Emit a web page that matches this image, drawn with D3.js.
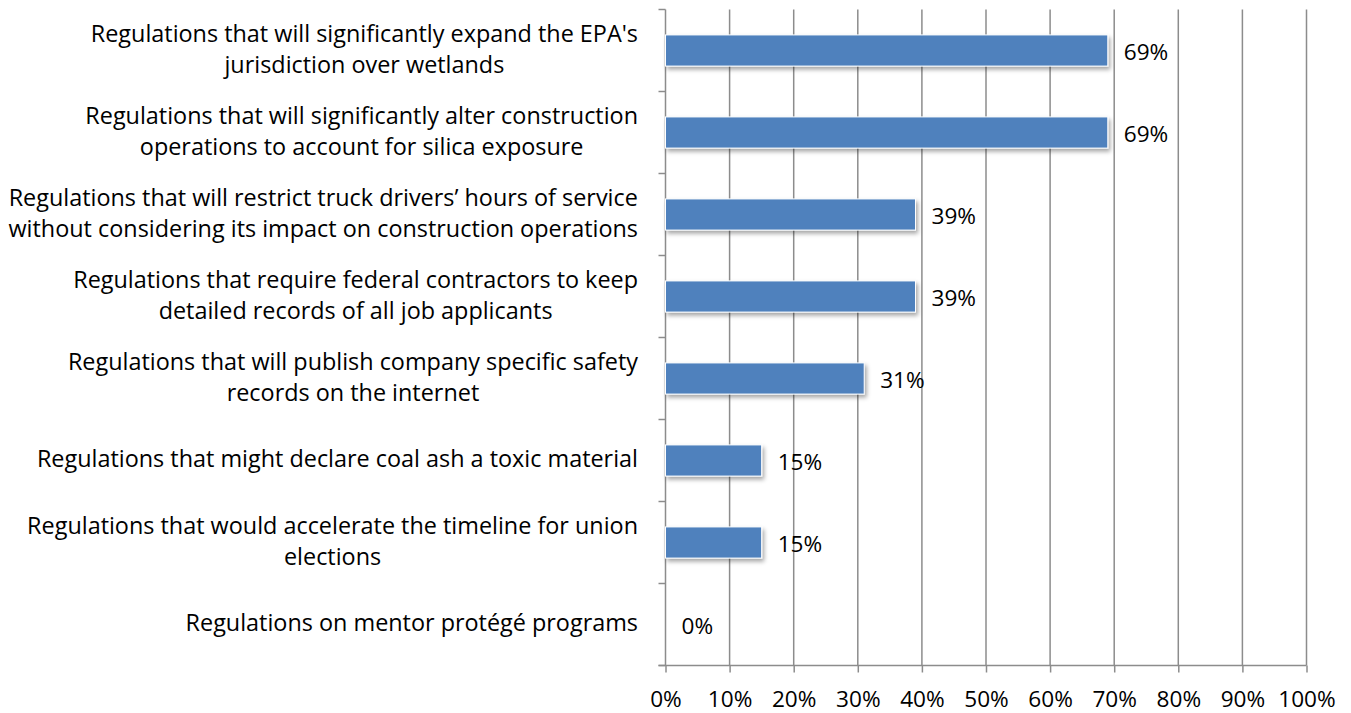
<!DOCTYPE html>
<html>
<head>
<meta charset="utf-8">
<script src="https://cdn.jsdelivr.net/npm/d3@7"></script>
<style>
  html, body { margin: 0; padding: 0; background: #fff; }
  svg { display: block; }
  text { font-family: "Open Sans", Lato, sans-serif; fill: #000; }
</style>
</head>
<body>
<svg id="chart" width="1351" height="713"></svg>
<script>
// Survey categories (each inner array is one wrapped label, line by line)
const categories = [
  ["Regulations that will significantly expand the EPA's", "jurisdiction over wetlands"],
  ["Regulations that will significantly alter construction", "operations to account for silica exposure"],
  ["Regulations that will restrict truck drivers\u2019 hours of service", "without considering its impact on construction operations"],
  ["Regulations that require federal contractors to keep", "detailed records of all job applicants"],
  ["Regulations that will publish company specific safety", "records on the internet"],
  ["Regulations that might declare coal ash a toxic material"],
  ["Regulations that would accelerate the timeline for union", "elections"],
  ["Regulations on mentor prot\u00e9g\u00e9 programs"]
];
const values = [69, 69, 39, 39, 31, 15, 15, 0];
const xTicks = [0, 10, 20, 30, 40, 50, 60, 70, 80, 90, 100];

const svg = d3.select("#chart");
const plotLeft = 665.5, plotRight = 1306.5, plotTop = 9.5, plotBottom = 665.5;
const fontSize = 22.6;
const catFontSize = 23.4;

const x = d3.scaleLinear().domain([0, 100]).range([plotLeft, plotRight]);
const y = d3.scaleBand()
  .domain(d3.range(categories.length))
  .range([plotTop, plotBottom])
  .paddingInner(0.62)
  .paddingOuter(0.31);

// Drop shadow for bars
const defs = svg.append("defs");
const f = defs.append("filter").attr("id", "shadow")
  .attr("x", "-5%").attr("y", "-30%").attr("width", "115%").attr("height", "190%");
f.append("feDropShadow").attr("dx", 2).attr("dy", 3).attr("stdDeviation", 2)
  .attr("flood-color", "#000").attr("flood-opacity", 0.35);

// Vertical gridlines
svg.append("g").selectAll("line")
  .data(xTicks.filter(d => d > 0))
  .join("line")
  .attr("x1", d => x(d)).attr("x2", d => x(d))
  .attr("y1", plotTop).attr("y2", plotBottom)
  .attr("stroke", "#8c8c8c").attr("stroke-width", 1.5);

// Bottom axis
const xAxis = svg.append("g")
  .attr("transform", `translate(0,${plotBottom})`)
  .call(d3.axisBottom(x).tickValues(xTicks).tickSize(7).tickPadding(18).tickFormat(d => d + "%"));
xAxis.select(".domain").attr("d", `M${plotLeft - 7},0H${plotRight}`).attr("stroke", "#8c8c8c").attr("stroke-width", 1.5);
xAxis.selectAll(".tick line").attr("stroke", "#8c8c8c").attr("stroke-width", 1.5);
xAxis.selectAll(".tick text").attr("font-size", fontSize).attr("font-family", "'Open Sans', sans-serif").attr("fill", "#000");

// Left axis with category separators
const bandEdges = d3.range(categories.length + 1).map(i => plotTop + i * y.step());
svg.append("line")
  .attr("x1", plotLeft).attr("x2", plotLeft).attr("y1", plotTop).attr("y2", plotBottom)
  .attr("stroke", "#8c8c8c").attr("stroke-width", 1.5);
svg.append("g").selectAll("line")
  .data(bandEdges)
  .join("line")
  .attr("x1", plotLeft - 7).attr("x2", plotLeft)
  .attr("y1", d => d).attr("y2", d => d)
  .attr("stroke", "#8c8c8c").attr("stroke-width", 1.5);

// Bars
svg.append("g").selectAll("rect")
  .data(values)
  .join("rect")
  .attr("x", x(0))
  .attr("y", (d, i) => y(i))
  .attr("width", d => x(d) - x(0))
  .attr("height", y.bandwidth())
  .attr("fill", "#4f81bd")
  .attr("stroke", "#fff").attr("stroke-width", 1)
  .attr("filter", d => d > 0 ? "url(#shadow)" : null);

// Value labels
svg.append("g").selectAll("text")
  .data(values)
  .join("text")
  .attr("x", d => x(d) + 16)
  .attr("y", (d, i) => y(i) + y.bandwidth() / 2 + 1.5)
  .attr("dy", "0.36em")
  .attr("font-size", fontSize)
  .text(d => d + "%");

// Category labels: wrapped lines centred on each other, block right-aligned
const labelRight = 638;
const lineGap = 31;
const catG = svg.append("g");
categories.forEach((lines, i) => {
  const cy = y(i) + y.bandwidth() / 2 - 1.5;
  const g = catG.append("g");
  const texts = lines.map((ln, j) => g.append("text")
    .attr("font-size", catFontSize)
    .attr("text-anchor", "middle")
    .attr("y", cy + (j - (lines.length - 1) / 2) * lineGap)
    .attr("dy", "0.36em")
    .text(ln));
  const maxW = d3.max(texts, t => t.node().getComputedTextLength());
  texts.forEach(t => t.attr("x", labelRight - maxW / 2));
});
</script>
</body>
</html>
